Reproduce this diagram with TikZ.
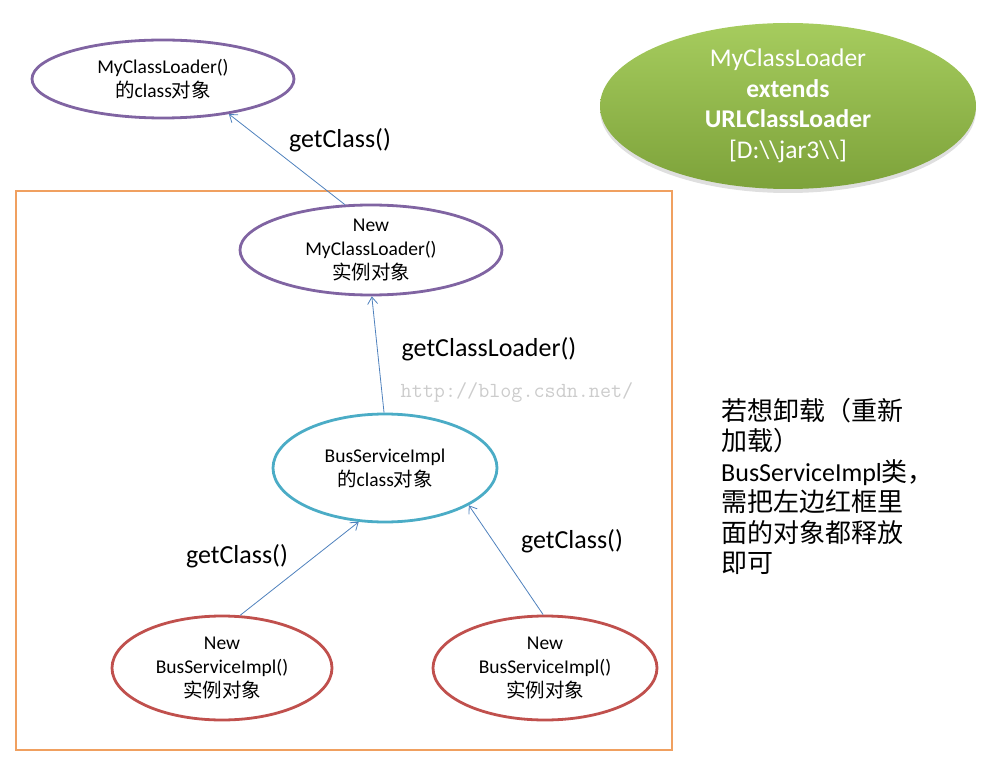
\documentclass[tikz,border=0pt]{standalone}
\usepackage{fontspec}
\setmainfont{Carlito}
\newfontfamily\cjk{Noto Sans CJK SC}
\usetikzlibrary{shapes.geometric,shadows,arrows.meta}
\definecolor{objpurple}{HTML}{8064A2}
\definecolor{objteal}{HTML}{4BACC6}
\definecolor{objred}{HTML}{C0504D}
\definecolor{boxorange}{HTML}{F0A060}
\definecolor{callblue}{HTML}{4F81BD}
\definecolor{greentop}{HTML}{A6CC5E}
\definecolor{greenbot}{HTML}{7DA23A}

\begin{document}
\begin{tikzpicture}[x=1pt,y=-1pt,
  obj/.style={ellipse,draw,line width=2.8pt,inner sep=0pt,align=center,font=\fontsize{19.5}{24}\selectfont},
  call/.style={-{Straight Barb[length=7pt,width=10pt]},draw=callblue,line width=0.8pt},
  lbl/.style={font=\fontsize{26}{30}\selectfont}]
\useasboundingbox (0,0) rectangle (985,767);

\draw[draw=boxorange,line width=2.8pt] (16,191) rectangle (672,750);

\path (163,79) node[obj,draw=objpurple,minimum width=262pt,minimum height=78pt](loaderClass){MyClassLoader()\\{\cjk 的}class{\cjk 对象}}
 (371,250) node[obj,draw=objpurple,minimum width=262pt,minimum height=90pt](loaderObj){New\\MyClassLoader()\\{\cjk 实例对象}}
 (385,468) node[obj,draw=objteal,minimum width=224pt,minimum height=108pt](busClass){BusServiceImpl\\{\cjk 的}class{\cjk 对象}}
 (222,668) node[obj,draw=objred,minimum width=220pt,minimum height=104pt](busObjA){New\\BusServiceImpl()\\{\cjk 实例对象}}
 (545,668) node[obj,draw=objred,minimum width=224pt,minimum height=104pt](busObjB){New\\BusServiceImpl()\\{\cjk 实例对象}};

\path (788,106) node[ellipse,minimum width=376pt,minimum height=166pt,inner sep=0pt,top color=greentop,bottom color=greenbot,drop shadow={opacity=0.25,shadow xshift=0pt,shadow yshift=-4pt},text=white,align=center,font=\fontsize{25.5}{30.5}\selectfont](loaderDef){MyClassLoader\\\textbf{extends}\\\textbf{URLClassLoader}\\{[}D:\textbackslash\textbackslash jar3\textbackslash\textbackslash{]}};

\path (340,140) node[lbl](getClassTop){getClass()}
 (489,349) node[lbl](getLoader){getClassLoader()}
 (237,556) node[lbl](getClassA){getClass()}
 (572,541) node[lbl](getClassB){getClass()}
 (517,393) node[text=gray!40,font=\ttfamily\fontsize{21.5}{24}\selectfont](watermark){http://blog.csdn.net/};

\node[anchor=north west,inner sep=0pt,align=left,font=\fontsize{26}{30.5}\selectfont](note) at (721,398){{\cjk 若想卸载（重新}\\{\cjk 加载）}\\BusServiceImpl{\cjk 类，}\\{\cjk 需把左边红框里}\\{\cjk 面的对象都释放}\\{\cjk 即可}};

\draw[call] (loaderObj.120) -- (loaderClass.-28);
\draw[call] (busClass.91) -- (loaderObj.-89);
\draw[call] (busObjA.71) -- (busClass.-116);
\draw[call] (busObjB.92) -- (busClass.-24);
\end{tikzpicture}
\end{document}
